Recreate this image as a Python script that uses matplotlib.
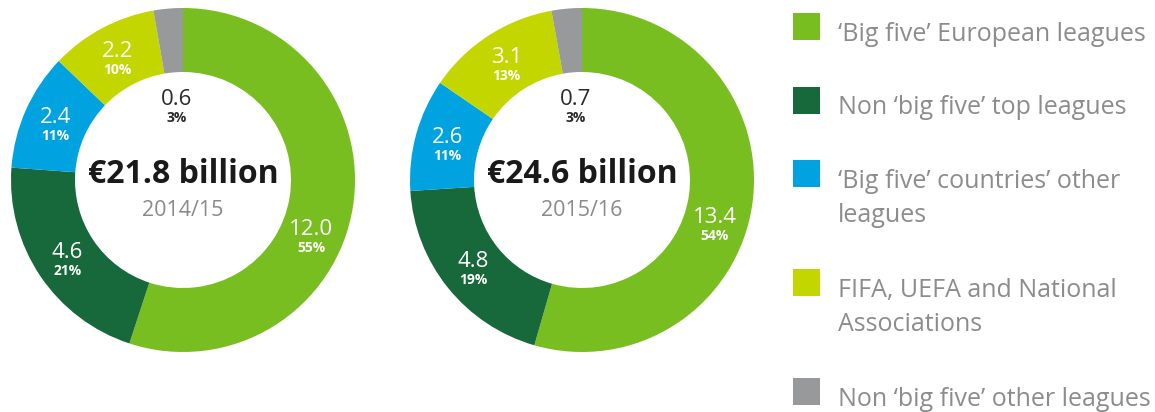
import numpy as np
import matplotlib
matplotlib.use("Agg")
import matplotlib.pyplot as plt
from matplotlib.patches import Rectangle

plt.rcParams['font.family'] = ['Open Sans', 'DejaVu Sans']

# data
categories = ["\u2018Big five\u2019 European leagues",
              "Non \u2018big five\u2019 top leagues",
              "\u2018Big five\u2019 countries\u2019 other\nleagues",
              "FIFA, UEFA and National\nAssociations",
              "Non \u2018big five\u2019 other leagues"]
seasons = ["2014/15", "2015/16"]
values_1415 = [12.0, 4.6, 2.4, 2.2, 0.6]
values_1516 = [13.4, 4.8, 2.6, 3.1, 0.7]
pct_1415 = [55, 21, 11, 10, 3]
pct_1516 = [54, 19, 11, 13, 3]
totals = [21.8, 24.6]

colors = ['#78BE20', '#17683A', '#00A3E0', '#C4D600', '#97999B']

W, H = 1155, 412
fig = plt.figure(figsize=(W / 100, H / 100), dpi=100)
ax = fig.add_axes([0, 0, 1, 1])

R = 172
ring = 64
centers = [(183, H - 180), (582, H - 180)]
big_shift = [-14, -10]  # nudge the big slice label down a bit

for k, (vals, pcts) in enumerate([(values_1415, pct_1415), (values_1516, pct_1516)]):
    cx, cy = centers[k]
    ax.pie(vals, colors=colors, startangle=90, counterclock=False,
           center=(cx, cy), radius=R, frame=True,
           wedgeprops=dict(width=ring, linewidth=0))
    frac = np.cumsum([0] + vals) / sum(vals)
    for i, v in enumerate(vals):
        mid = 90 - 360 * (frac[i] + frac[i + 1]) / 2
        if pcts[i] < 5:
            r, col = 0.44 * R, '#2b2b2b'
        else:
            r, col = 0.81 * R, 'white'
            if i == 0:
                mid += big_shift[k]
        x = cx + r * np.cos(np.radians(mid))
        y = cy + r * np.sin(np.radians(mid))
        ax.text(x, y, f"{v:.1f}", color=col, fontsize=16,
                ha='center', va='baseline')
        ax.text(x, y - 17, f"{pcts[i]}%", color=col, fontsize=10,
                fontweight='bold', ha='center', va='baseline')
    ax.text(cx, cy + 6, f"\u20ac{totals[k]} billion", fontsize=23,
            fontweight='bold', color='#1a1a1a', ha='center', va='center')
    ax.text(cx, cy - 30, seasons[k], fontsize=15.5, color='#8a8a8a',
            ha='center', va='center')

# legend
y = H - 26.5
for c, lab in zip(colors, categories):
    ax.add_patch(Rectangle((793, y - 13.5), 27, 27, color=c, linewidth=0))
    ax.text(838, y + 5, lab, fontsize=18, color='#8c8c8c',
            ha='left', va='top', linespacing=1.5)
    y -= 35.5 * lab.count('\n') + 73.5

ax.set_xlim(0, W)
ax.set_ylim(0, H)
ax.set_aspect('equal')
ax.axis('off')

fig.savefig('out.png', dpi=100)
